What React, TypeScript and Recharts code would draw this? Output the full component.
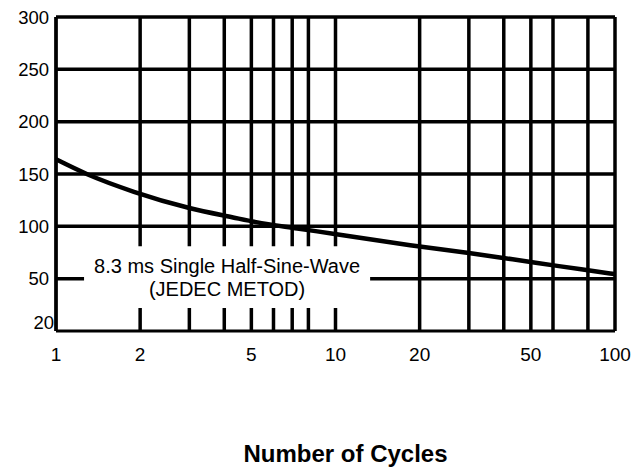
import React from 'react';
import { LineChart, Line, XAxis, YAxis, CartesianGrid, ReferenceArea } from 'recharts';

const cycles = [1, 1.3, 1.9, 3, 4.3, 5.2, 7.3, 9.8, 18.5, 30, 43, 63, 96, 100];
const surgeCurrent = [164, 149.5, 133, 117.5, 108.5, 104, 98, 93, 82, 74.5, 68.5, 62, 55, 54.3];
const xTicks = [1, 2, 5, 10, 20, 50, 100];
const yTicks = [20, 50, 100, 150, 200, 250, 300];
const xGrid = [1, 2, 3, 4, 5, 6, 7, 8, 9, 10, 20, 30, 40, 50, 60, 70, 80, 90, 100];
const yGrid = [50, 100, 150, 200, 250, 300];
const noteLines = ['8.3 ms Single Half-Sine-Wave', '(JEDEC METOD)'];
const noteBox = { x1: 1.26, x2: 13.3, y1: 22, y2: 81 };

const data = cycles.map((c, i) => ({ c, v: surgeCurrent[i] }));

const FONT = '"Liberation Sans", Arial, sans-serif';

const YTick = (props: any) => {
  const { x, y, payload } = props;
  const isLow = payload.value === 20;
  return (
    <text
      x={x + (isLow ? 9 : 4)}
      y={y + (isLow ? 12 : 0)}
      textAnchor="end"
      dominantBaseline="central"
      fontFamily={FONT}
      fontSize={18.5}
      fill="#000"
    >
      {payload.value}
    </text>
  );
};

const NoteLabel = (props: any) => {
  const vb = props.viewBox || {};
  const cx = vb.x + vb.width / 2;
  const cy = vb.y + vb.height / 2;
  return (
    <text x={cx} y={cy} textAnchor="middle" fontFamily={FONT} fontSize={20} fill="#000">
      <tspan x={cx} dy={-4}>{noteLines[0]}</tspan>
      <tspan x={cx} dy={23}>{noteLines[1]}</tspan>
    </text>
  );
};

export default function App() {
  return (
    <div style={{ position: 'absolute', left: 0, top: 0, background: '#fff' }}>
      <LineChart
        width={636}
        height={475}
        data={data}
        margin={{ top: 17, right: 21, left: 0, bottom: 0 }}
      >
        <CartesianGrid
          stroke="#000"
          strokeWidth={3.5}
          horizontalValues={yGrid}
          verticalValues={xGrid}
        />
        <ReferenceArea
          x1={noteBox.x1}
          x2={noteBox.x2}
          y1={noteBox.y1}
          y2={noteBox.y2}
          fill="#fff"
          fillOpacity={1}
          stroke="none"
          label={<NoteLabel />}
        />
        <XAxis
          dataKey="c"
          type="number"
          scale="log"
          domain={[1, 100]}
          ticks={xTicks}
          allowDataOverflow
          height={144}
          tickLine={false}
          tickMargin={11}
          axisLine={{ stroke: '#000', strokeWidth: 3 }}
          tick={{ fill: '#000', fontSize: 19, fontFamily: FONT }}
          label={{
            value: 'Number of Cycles',
            position: 'insideBottom',
            offset: 13,
            dx: 10,
            fill: '#000',
            fontSize: 24,
            fontWeight: 'bold',
            fontFamily: FONT,
          }}
        />
        <YAxis
          type="number"
          domain={[0, 300]}
          ticks={yTicks}
          width={56}
          tickLine={false}
          tickMargin={5}
          axisLine={{ stroke: '#000', strokeWidth: 3 }}
          tick={<YTick />}
        />
        <Line
          dataKey="v"
          type="monotone"
          stroke="#000"
          strokeWidth={4.5}
          dot={false}
          isAnimationActive={false}
        />
      </LineChart>
    </div>
  );
}
